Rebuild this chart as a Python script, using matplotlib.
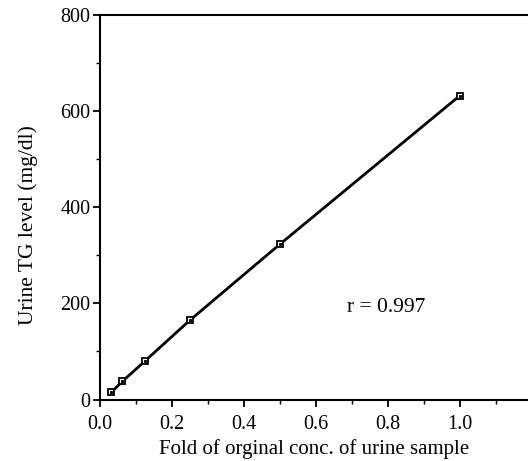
import matplotlib

matplotlib.use("Agg")
import matplotlib.pyplot as plt
from matplotlib.ticker import MultipleLocator

# fold of original concentration vs measured urine TG
fold = [1 / 32, 1 / 16, 1 / 8, 1 / 4, 1 / 2, 1.0]
tg_level = [15, 38, 80, 165, 323, 632]

plt.rcParams["font.family"] = ["Liberation Serif", "DejaVu Serif"]

fig = plt.figure(figsize=(5.28, 4.61), dpi=100)
ax = fig.add_axes([0.1894, 0.1334, 0.8106, 0.834])

ax.plot(fold, tg_level, color="black", linewidth=2.0, marker="s",
        markersize=5, markerfacecolor="white", markeredgecolor="black",
        markeredgewidth=1.3)
# small dot in the middle of each square marker
ax.plot(fold, tg_level, linestyle="none", marker="s", markersize=1.2,
        color="black")

ax.set_xlim(0, 1.19)
ax.set_ylim(0, 800)
ax.xaxis.set_major_locator(MultipleLocator(0.2))
ax.xaxis.set_minor_locator(MultipleLocator(0.1))
ax.yaxis.set_major_locator(MultipleLocator(200))
ax.yaxis.set_minor_locator(MultipleLocator(100))
ax.set_xticks([0.0, 0.2, 0.4, 0.6, 0.8, 1.0])
ax.set_xticklabels(["0.0", "0.2", "0.4", "0.6", "0.8", "1.0"])

ax.spines["right"].set_visible(False)
for side in ("left", "bottom", "top"):
    ax.spines[side].set_linewidth(1.5)
ax.tick_params(which="major", direction="out", length=5, width=1.3,
               labelsize=14.5)
ax.tick_params(axis="x", which="major", pad=6)
ax.tick_params(axis="y", which="major", pad=2)
ax.tick_params(which="minor", direction="out", length=3, width=1.0)

ax.set_xlabel("Fold of orginal conc. of urine sample", fontsize=15, va="center")
ax.set_ylabel("Urine TG level (mg/dl)", fontsize=15.5, va="center")
ax.xaxis.set_label_coords(0.5, -0.13)
ax.yaxis.set_label_coords(-0.168, 0.455)

ax.text(0.795, 192, "r = 0.997", fontsize=15.5, ha="center", va="center")

fig.savefig("out.png", dpi=100)
